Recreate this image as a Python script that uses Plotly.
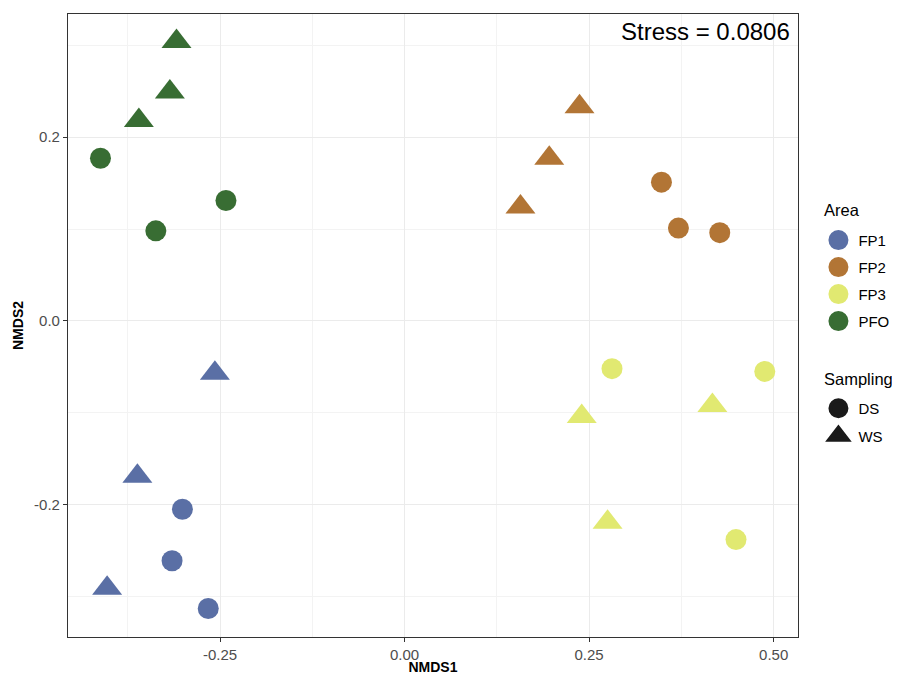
import plotly.graph_objects as go

# ---- data ----
sample_area = ["PFO"] * 6 + ["FP2"] * 6 + ["FP1"] * 6 + ["FP3"] * 6
sample_sampling = (["WS", "WS", "WS", "DS", "DS", "DS"] * 4)
nmds1 = [-0.309, -0.318, -0.360, -0.412, -0.242, -0.337,
         0.237, 0.196, 0.157, 0.348, 0.371, 0.427,
         -0.257, -0.362, -0.403, -0.301, -0.315, -0.266,
         0.240, 0.417, 0.275, 0.281, 0.488, 0.449]
nmds2 = [0.304, 0.249, 0.218, 0.177, 0.131, 0.098,
         0.233, 0.177, 0.124, 0.151, 0.101, 0.096,
         -0.057, -0.169, -0.291, -0.205, -0.261, -0.313,
         -0.104, -0.092, -0.219, -0.052, -0.055, -0.238]

areas = ["FP1", "FP2", "FP3", "PFO"]
area_colors = {"FP1": "#5A6FA5", "FP2": "#B27535", "FP3": "#E1E971", "PFO": "#386D33"}
samplings = ["DS", "WS"]
sampling_symbols = {"DS": "circle", "WS": "triangle-up"}
sampling_sizes = {"DS": 21, "WS": 26}

x_ticks = [-0.25, 0.0, 0.25, 0.5]
x_ticktext = ["-0.25", "0.00", "0.25", "0.50"]
x_minor = [-0.375, -0.125, 0.125, 0.375]
y_ticks = [-0.2, 0.0, 0.2]
y_ticktext = ["-0.2", "0.0", "0.2"]
y_minor = [-0.3, -0.1, 0.1, 0.3]
stress_text = "Stress = 0.0806"
area_title = "Area"
sampling_title = "Sampling"

FONT = "Liberation Sans, Arial, Helvetica, sans-serif"

fig = go.Figure()

# data points
for a in areas:
    for s in samplings:
        xs = [x for x, aa, ss in zip(nmds1, sample_area, sample_sampling) if aa == a and ss == s]
        ys = [y for y, aa, ss in zip(nmds2, sample_area, sample_sampling) if aa == a and ss == s]
        fig.add_trace(go.Scatter(
            x=xs, y=ys, mode="markers", showlegend=False,
            marker=dict(color=area_colors[a], symbol=sampling_symbols[s],
                        size=sampling_sizes[s], line=dict(width=0)),
            hovertemplate=f"{a} / {s}<br>NMDS1=%{{x}}<br>NMDS2=%{{y}}<extra></extra>",
        ))

# legend entries: Area
for a in areas:
    fig.add_trace(go.Scatter(
        x=[None], y=[None], mode="markers", name=a, legend="legend",
        legendgroup="area_" + a,
        marker=dict(color=area_colors[a], symbol="circle", size=16,
                    line=dict(width=4, color=area_colors[a])),
    ))
# legend entries: Sampling
for s in samplings:
    fig.add_trace(go.Scatter(
        x=[None], y=[None], mode="markers", name=s, legend="legend2",
        legendgroup="samp_" + s,
        marker=dict(color="#1A1A1A", symbol=sampling_symbols[s], size=16,
                    line=dict(width=4, color="#1A1A1A")),
    ))

axis_common = dict(
    showline=True, linecolor="#333333", linewidth=1.1, mirror=True,
    ticks="outside", ticklen=4, tickcolor="#333333", tickwidth=1,
    showgrid=True, gridcolor="#EBEBEB", gridwidth=1.1, zeroline=False,
    tickfont=dict(family=FONT, size=15, color="#4D4D4D"),
    automargin=False,
)

fig.update_xaxes(
    **axis_common, range=[-0.456, 0.533], tickmode="array",
    tickvals=x_ticks, ticktext=x_ticktext,
    minor=dict(tickmode="array", tickvals=x_minor, showgrid=True,
               gridcolor="#F3F3F3", gridwidth=0.6, ticks=""),
    title=dict(text="<b>NMDS1</b>", font=dict(family=FONT, size=14, color="black"), standoff=10),
)
fig.update_yaxes(
    **axis_common, range=[-0.344, 0.334], tickmode="array",
    tickvals=y_ticks, ticktext=y_ticktext,
    minor=dict(tickmode="array", tickvals=y_minor, showgrid=True,
               gridcolor="#F3F3F3", gridwidth=0.6, ticks=""),
    title=dict(text="<b>NMDS2</b>", font=dict(family=FONT, size=14, color="black"), standoff=7),
)

fig.add_annotation(
    text=stress_text, xref="paper", yref="paper", x=0.992, y=0.972,
    xanchor="right", yanchor="middle", showarrow=False,
    font=dict(family=FONT, size=24, color="black"),
)
# legend titles
fig.add_annotation(
    text=area_title, xref="paper", yref="paper", x=1.033, y=0.6854,
    xanchor="left", yanchor="middle", showarrow=False,
    font=dict(family=FONT, size=16.5, color="black"),
)
fig.add_annotation(
    text=sampling_title, xref="paper", yref="paper", x=1.033, y=0.4141,
    xanchor="left", yanchor="middle", showarrow=False,
    font=dict(family=FONT, size=16.5, color="black"),
)

# page body has an 8px default margin; figure sized to fit the window
fig.update_layout(
    width=892, height=667,
    margin=dict(l=60, r=100, t=6, b=38),
    plot_bgcolor="white", paper_bgcolor="white",
    font=dict(family=FONT, color="black"),
    legend=dict(
        font=dict(family=FONT, size=15, color="black"),
        x=1.028, y=0.6632, xanchor="left", yanchor="top",
        tracegroupgap=4.5, traceorder="grouped",
        bgcolor="rgba(0,0,0,0)", itemclick=False, itemdoubleclick=False,
    ),
    legend2=dict(
        font=dict(family=FONT, size=15, color="black"),
        x=1.028, y=0.3932, xanchor="left", yanchor="top",
        tracegroupgap=5, traceorder="grouped",
        bgcolor="rgba(0,0,0,0)", itemclick=False, itemdoubleclick=False,
    ),
)

fig.write_html("out.html")
